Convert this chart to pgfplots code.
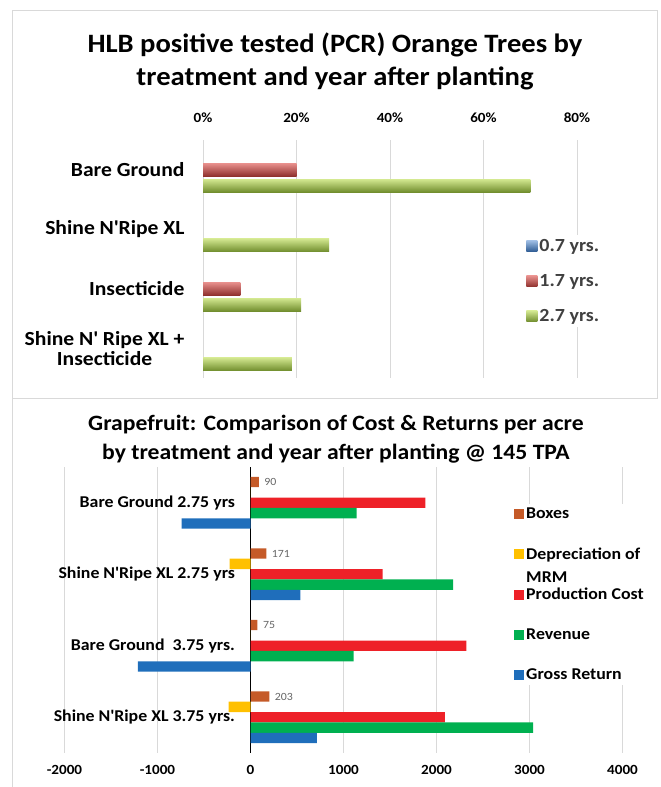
\documentclass[border=0pt]{standalone}
\usepackage{pgfplots}
\pgfplotsset{compat=1.18}
\usepackage{fontspec}
\setmainfont{Carlito}[FakeStretch=1.08]
\newcommand\ap{\textquotesingle}
\definecolor{gbar}{HTML}{9BBB59}
\definecolor{gtop}{HTML}{D2E78F}
\definecolor{gbot}{HTML}{6F8C2C}
\definecolor{rbar}{HTML}{C0504D}
\definecolor{rtop}{HTML}{E8908D}
\definecolor{rbot}{HTML}{8E2F2C}
\definecolor{bbar}{HTML}{4F81BD}
\definecolor{btop}{HTML}{9DBCE3}
\definecolor{bbot}{HTML}{2C5A92}
\definecolor{cboxes}{HTML}{C55A28}
\definecolor{cdep}{HTML}{FFC000}
\definecolor{cprod}{HTML}{EE2128}
\definecolor{crev}{HTML}{00B050}
\definecolor{cgross}{HTML}{1F6EBB}
\definecolor{framegray}{HTML}{D9D9D9}
\definecolor{gridgray}{HTML}{D9D9D9}
\pgfplotsset{
  bluebar/.style={draw=none, top color=btop, middle color=bbar, bottom color=bbot, bar shift=0.27},
  redbar/.style={draw=none, top color=rtop, middle color=rbar, bottom color=rbot, bar shift=0},
  greenbar/.style={draw=none, top color=gtop, middle color=gbar, bottom color=gbot, bar shift=-0.27},
}
\begin{document}
\begin{tikzpicture}[x=1pt,y=1pt]
\draw[framegray, line width=0.8pt] (12,777) rectangle (657,389);
\draw[framegray, line width=0.8pt] (12,389) -- (12,0);
\node[align=center, font=\bfseries\fontsize{26.5}{33}\selectfont] at (335,725.5)
  {HLB positive tested (PCR) Orange Trees by\\treatment and year after planting};
\node[align=center, font=\bfseries\fontsize{21.9}{29}\selectfont] at (336,348)
  {Grapefruit: Comparison of Cost \& Returns per acre\\by treatment and year after planting @ 145 TPA};

% ---------------- top chart ----------------
\begin{axis}[
  at={(203pt,409pt)}, anchor=south west, scale only axis,
  width=374pt, height=238pt,
  xbar, bar width=0.22,
  xmin=0, xmax=80, ymin=-0.5, ymax=3.5,
  xtick={0,20,40,60,80},
  xticklabels={0\%,20\%,40\%,60\%,80\%},
  xticklabel pos=upper,
  xticklabel style={font=\bfseries\fontsize{14}{14}\selectfont, yshift=14pt},
  ytick={0,1,2,3},
  yticklabels={{Shine N\ap{} Ripe XL +\\Insecticide},Insecticide,Shine N\ap Ripe XL,Bare Ground},
  yticklabel style={font=\bfseries\fontsize{20}{20}\selectfont, align=center, xshift=-15pt},
  axis line style={draw=none},
  major tick length=0pt,
  xmajorgrids, grid style={gridgray, line width=0.8pt},
  legend image code/.code={\path[#1] (0pt,-5.5pt) rectangle (11pt,5.5pt);},
  legend style={at={(0.859,0.600)}, anchor=north west, draw=none, fill=white,
    font=\bfseries\fontsize{18.5}{18.5}\selectfont, text=black!75, row sep=17.5pt,
    inner sep=2pt},
  legend cell align=left,
]
% 0.7 yrs.
\addplot[bluebar] coordinates {(0,3) (0,2) (0,1) (0,0)};
% 1.7 yrs. (one path per bar, so that each bar gets its own shading)
\addplot[redbar] coordinates {(20,3)};
\addplot[redbar, forget plot] coordinates {(0,2)};
\addplot[redbar, forget plot] coordinates {(8,1)};
\addplot[redbar, forget plot] coordinates {(0,0)};
% 2.7 yrs.
\addplot[greenbar] coordinates {(70,3)};
\addplot[greenbar, forget plot] coordinates {(27,2)};
\addplot[greenbar, forget plot] coordinates {(21,1)};
\addplot[greenbar, forget plot] coordinates {(19,0)};
\legend{0.7 yrs.,1.7 yrs.,2.7 yrs.}
\end{axis}

% ---------------- bottom chart ----------------
\begin{axis}[
  at={(64.5pt,34pt)}, anchor=south west, scale only axis,
  width=558pt, height=286pt,
  xbar, bar width=0.145,
  xmin=-2000, xmax=4000, ymin=-0.5, ymax=3.5,
  axis x line=bottom, axis y line=middle,
  x axis line style={draw=none},
  y axis line style={-, black, line width=0.8pt},
  xtick={-2000,-1000,0,1000,2000,3000,4000},
  xticklabels={-2000,-1000,0,1000,2000,3000,4000},
  xticklabel style={font=\bfseries\fontsize{14}{14}\selectfont, yshift=-9pt},
  ytick={0,1,2,3},
  yticklabels={Shine N\ap Ripe XL 3.75 yrs.,Bare Ground\ \ 3.75 yrs.,Shine N\ap Ripe XL 2.75 yrs,Bare Ground 2.75 yrs},
  yticklabel style={font=\bfseries\fontsize{16.5}{16.5}\selectfont, anchor=east, xshift=-12pt},
  major tick length=0pt,
  xmajorgrids, grid style={gridgray, line width=0.8pt},
  /pgf/number format/assume math mode=true,
  legend image code/.code={\path[#1] (0pt,-5pt) rectangle (10pt,5pt);},
  legend style={at={(0.802,0.871)}, anchor=north west, draw=none, fill=white,
    font=\bfseries\fontsize{16.5}{16.5}\selectfont, row sep=23.5pt, inner sep=2pt},
  legend cell align=left,
]
\addplot[draw=none, fill=cboxes, bar shift=0.29,
  nodes near coords, nodes near coords style={anchor=west, xshift=2pt,
  font=\fontsize{11}{11}\selectfont, text=black!60}]
  coordinates {(90,3) (171,2) (75,1) (203,0)};
\addplot[draw=none, fill=cdep, bar shift=0.145]
  coordinates {(0,3) (-225,2) (0,1) (-235,0)};
\addplot[draw=none, fill=cprod, bar shift=0]
  coordinates {(1880,3) (1420,2) (2320,1) (2090,0)};
\addplot[draw=none, fill=crev, bar shift=-0.145]
  coordinates {(1140,3) (2180,2) (1110,1) (3040,0)};
\addplot[draw=none, fill=cgross, bar shift=-0.29]
  coordinates {(-740,3) (535,2) (-1210,1) (715,0)};
\legend{Boxes,{\smash{\makebox[0pt][l]{\raisebox{-23pt}{MRM}}}Depreciation of},Production Cost,Revenue,Gross Return}
\end{axis}
\pgfresetboundingbox
\useasboundingbox (0,0) rectangle (661,787);
\end{tikzpicture}
\end{document}
